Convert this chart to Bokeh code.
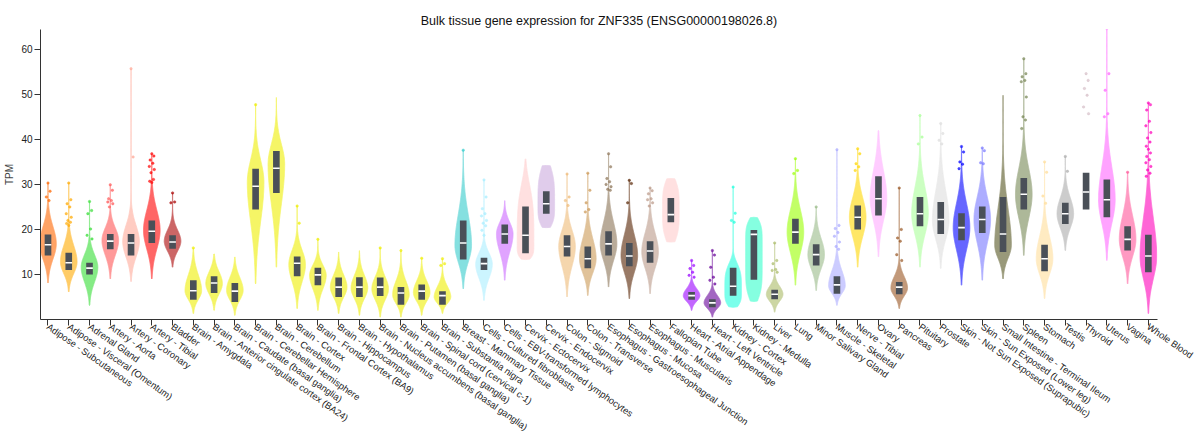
import numpy as np
from bokeh.plotting import figure
from bokeh.models import Range1d, FixedTicker, ColumnDataSource
from bokeh.embed import file_html
from bokeh.resources import INLINE

title_text = "Bulk tissue gene expression for ZNF335 (ENSG00000198026.8)"

tissues = [
    "Adipose - Subcutaneous", "Adipose - Visceral (Omentum)", "Adrenal Gland",
    "Artery - Aorta", "Artery - Coronary", "Artery - Tibial", "Bladder",
    "Brain - Amygdala", "Brain - Anterior cingulate cortex (BA24)",
    "Brain - Caudate (basal ganglia)", "Brain - Cerebellar Hemisphere",
    "Brain - Cerebellum", "Brain - Cortex", "Brain - Frontal Cortex (BA9)",
    "Brain - Hippocampus", "Brain - Hypothalamus",
    "Brain - Nucleus accumbens (basal ganglia)", "Brain - Putamen (basal ganglia)",
    "Brain - Spinal cord (cervical c-1)", "Brain - Substantia nigra",
    "Breast - Mammary Tissue", "Cells - Cultured fibroblasts",
    "Cells - EBV-transformed lymphocytes", "Cervix - Ectocervix",
    "Cervix - Endocervix", "Colon - Sigmoid", "Colon - Transverse",
    "Esophagus - Gastroesophageal Junction", "Esophagus - Mucosa",
    "Esophagus - Muscularis", "Fallopian Tube", "Heart - Atrial Appendage",
    "Heart - Left Ventricle", "Kidney - Cortex", "Kidney - Medulla", "Liver",
    "Lung", "Minor Salivary Gland", "Muscle - Skeletal", "Nerve - Tibial",
    "Ovary", "Pancreas", "Pituitary", "Prostate",
    "Skin - Not Sun Exposed (Suprapubic)", "Skin - Sun Exposed (Lower leg)",
    "Small Intestine - Terminal Ileum", "Spleen", "Stomach", "Testis",
    "Thyroid", "Uterus", "Vagina", "Whole Blood",
]

colors = [
    "#FF6600", "#FFAA00", "#33DD33", "#FF5555", "#FFAA99", "#FF0000", "#AA0000",
    "#EEEE00", "#EEEE00", "#EEEE00", "#EEEE00", "#EEEE00", "#EEEE00", "#EEEE00",
    "#EEEE00", "#EEEE00", "#EEEE00", "#EEEE00", "#EEEE00", "#EEEE00",
    "#33CCCC", "#AAEEFF", "#CC66FF", "#FFCCCC", "#CCAADD", "#EEBB77", "#CC9955",
    "#8B7355", "#552200", "#BB9988", "#FFCCCC", "#9900FF", "#660099",
    "#22FFDD", "#33FFCC", "#AABB66", "#99FF00", "#99BB88", "#AAAAFF",
    "#FFD700", "#FFAAFF", "#995522", "#AAFF99", "#DDDDDD", "#0000FF",
    "#7777FF", "#555522", "#778855", "#FFDD99", "#AAAAAA", "#006600",
    "#FF66FF", "#FF5599", "#FF00BB",
]

q1 = [14.2, 11.0, 10.0, 15.6, 14.2, 17.0, 15.7, 4.4, 5.9, 3.9, 24.4, 28.1, 9.6,
      7.6, 5.0, 5.0, 5.2, 3.3, 4.4, 3.3, 13.3, 11.0, 16.8, 14.7, 23.5, 14.0,
      11.4, 14.2, 11.8, 12.6, 21.6, 4.4, 2.7, 5.3, 8.8, 4.5, 16.8, 12.0, 5.7,
      20.0, 23.1, 5.6, 20.7, 19.0, 17.6, 19.2, 15.0, 24.4, 10.7, 21.2, 24.4,
      22.7, 15.3, 10.5]
median = [16.6, 12.6, 11.4, 17.4, 17.0, 19.6, 17.2, 6.4, 8.1, 6.3, 29.6, 33.6,
          12.5, 9.9, 7.2, 7.2, 7.2, 5.9, 6.3, 5.3, 17.0, 12.4, 19.0, 18.7, 25.7,
          16.2, 13.5, 16.8, 14.1, 15.2, 23.3, 5.3, 3.7, 7.4, 18.9, 5.6, 19.4,
          14.4, 7.7, 22.7, 26.8, 7.2, 23.5, 22.2, 20.4, 22.2, 19.0, 27.8, 13.5,
          23.5, 28.3, 26.6, 17.8, 14.1]
q3 = [18.9, 14.8, 12.6, 19.0, 19.0, 22.0, 18.7, 8.7, 9.6, 8.1, 33.5, 37.4, 14.0,
      11.5, 9.3, 9.4, 9.3, 7.2, 7.8, 6.3, 22.0, 13.7, 21.1, 25.1, 28.5, 18.7,
      16.2, 19.6, 17.0, 17.4, 27.0, 6.1, 4.5, 11.5, 19.9, 6.6, 22.4, 16.7, 9.6,
      25.3, 31.8, 8.3, 27.2, 26.1, 23.6, 25.1, 27.2, 31.4, 16.6, 25.9, 32.6,
      31.1, 20.7, 18.8]

# violin extent (bottom tip, top tip), level of widest part, level where the body ends
v_min = [8.1, 6.1, 3.1, 9.0, 8.4, 9.0, 11.6, 1.3, 2.0, 0.9, 7.9, 11.6, 2.4, 2.0,
         1.3, 0.9, 0.5, 0.5, 0.9, 1.3, 6.8, 4.2, 8.7, 13.3, 20.4, 5.0, 5.3, 7.2,
         4.6, 5.7, 17.2, 2.0, 0.5, 2.7, 4.0, 1.6, 7.6, 6.4, 3.1, 11.6, 13.9, 2.4,
         11.6, 11.3, 7.6, 8.7, 9.0, 14.2, 4.6, 15.3, None, 13.1, 7.9, 1.3]
v_max = [30.3, 30.3, 26.2, 29.9, 55.7, 36.8, 28.1, 15.9, 14.6, 13.9, 47.9, 49.3,
         25.2, 17.8, 15.0, 15.3, 15.9, 15.3, 13.6, 13.5, 37.6, 31.0, 26.4, 35.7,
         34.2, 32.3, 32.5, 36.8, 30.9, 29.2, 31.3, 13.1, 15.3, 29.4, 22.7, 17.0,
         35.7, 25.0, 37.7, 37.9, 42.0, 29.2, 45.3, 43.5, 38.4, 38.1, 49.8, 57.9,
         35.0, 36.2, None, 64.6, 32.7, 48.1]
v_peak = [16.8, 12.8, 11.6, 17.6, 17.3, 19.8, 17.4, 6.4, 8.0, 6.5, 30.5, 34.5,
          12.2, 9.8, 7.2, 7.0, 6.8, 5.5, 6.0, 5.0, 16.5, 12.3, 19.0, 16.5, 25.5,
          16.2, 13.5, 16.8, 14.2, 15.0, 24.5, 5.3, 3.7, 6.5, 15.0, 5.6, 19.4,
          14.4, 7.5, 22.7, 27.0, 7.0, 23.5, 22.0, 20.4, 22.2, 16.5, 27.8, 13.5,
          23.5, None, 26.6, 17.8, 14.0]
v_body_top = [25.0, 20.5, 17.6, 23.5, 25.0, 29.4, 22.7, 13.9, 13.5, 12.5, 41.0,
              44.0, 19.0, 14.7, 13.0, 13.0, 12.5, 12.0, 11.5, 10.0, 31.0, 17.6,
              24.5, 30.0, 34.2, 24.0, 23.0, 27.0, 24.0, 24.0, 31.3, 8.7, 7.2,
              12.5, 22.7, 9.4, 30.0, 22.0, 14.6, 32.0, 40.0, 12.4, 36.0, 36.0,
              32.0, 33.0, 34.0, 40.0, 24.0, 31.0, None, 42.0, 29.0, 32.0]
# 2 = rounded teardrop, 4/6 = blunt (few samples)
shape_power = [2, 2, 2, 2, 2, 2, 2, 2, 2, 2, 2, 2, 2, 2, 2, 2, 2, 2, 2, 2, 2, 2,
               2, 4, 4, 2, 2, 2, 2, 2, 4, 2, 2, 4, 6, 2, 2, 2, 2, 2, 2, 2, 2, 2,
               2, 2, 2, 2, 2, 2, 2, 2, 2, 2]

outliers = [
    [30.3, 28.5, 27.2, 26.4],
    [30.3, 26.6, 25.7, 25.0, 23.5, 22.7, 22.0, 21.6, 21.3, 20.9],
    [26.2, 24.2, 23.5, 20.1, 18.7, 17.9],
    [29.9, 28.7, 26.8, 26.4, 26.1, 25.7, 25.0],
    [55.7, 36.1],
    [36.8, 36.3, 35.4, 34.7, 34.0, 33.3, 32.6, 31.1, 30.7, 30.4],
    [28.1, 26.1, 25.9],
    [15.9], [], [], [47.7], [], [25.2, 21.4], [17.8], [], [], [15.9], [15.3],
    [13.6], [13.5, 12.4, 12.0],
    [37.6],
    [31.0, 27.2, 24.6, 23.5, 23.0, 22.0, 21.4, 20.8, 19.8, 18.7],
    [], [], [],
    [32.3, 27.2, 26.4, 25.3],
    [32.5, 28.7, 25.9, 24.4, 23.9],
    [36.8, 33.9, 31.3, 30.6, 30.0, 29.5, 28.9, 28.7],
    [30.9, 30.2, 25.9],
    [29.2, 28.6, 27.9, 26.8, 26.6, 25.9, 25.2],
    [],
    [13.1, 12.0, 11.3, 10.5, 9.8, 9.4],
    [15.3, 14.3, 11.6, 9.4, 8.7, 7.9],
    [29.4, 23.6, 22.0, 21.6],
    [],
    [17.0, 13.1, 12.4, 11.1, 10.9, 10.5],
    [35.7, 33.1, 32.4],
    [25.0],
    [37.7, 20.9, 20.2, 19.3, 18.5, 17.2, 16.2, 15.6],
    [37.9, 36.8, 34.6, 33.9, 33.1],
    [],
    [29.2, 20.0, 18.1, 17.4, 14.4, 13.1],
    [45.3, 40.5, 39.0],
    [43.5, 41.3, 39.8, 39.0],
    [38.4, 37.2, 35.0, 34.5, 33.5],
    [38.1, 37.5, 34.8, 34.6],
    [],
    [57.9, 54.6, 53.9, 53.1, 52.8, 49.4, 45.0, 44.3, 42.4],
    [35.0, 32.7, 27.4, 25.8],
    [36.2, 32.9],
    [54.6, 53.1, 51.3, 49.8, 47.2, 45.7],
    [64.6, 54.6, 50.9, 45.7, 45.0],
    [32.7],
    [48.1, 47.7, 46.5, 44.0, 43.0, 41.5, 40.3, 39.4, 38.5, 37.8, 37.0, 36.2,
     35.5, 34.8, 34.0, 33.2, 32.5, 31.8],
]

y_ticks = [10, 20, 30, 40, 50, 60]

# ---------------- style ----------------
FONT = "Liberation Sans"
HALF = 0.40      # max half-width of a violin, in band units
BOX_W = 0.32
JITTER = [0.0, 0.10, -0.08, 0.05, -0.12, 0.12, -0.04, 0.08, -0.10]

def blend(hexcol, a=0.6):
    h = hexcol.lstrip("#")
    r, g, b = (int(h[k:k + 2], 16) for k in (0, 2, 4))
    r, g, b = (round(a * c + (1 - a) * 255) for c in (r, g, b))
    return "#%02x%02x%02x" % (r, g, b)

n = len(tissues)
xs, ys, fills = [], [], []
for i in range(n):
    if v_min[i] is None:
        continue
    lo, hi, pk, bt, pw = v_min[i], v_max[i], v_peak[i], v_body_top[i], shape_power[i]
    zend = 2.6 if pw == 2 else 1.1
    s_lo = (pk - lo) / zend
    s_hi = (bt - pk) / (2.15 if pw == 2 else 1.1)
    v = np.linspace(lo, hi, 200)
    z = np.where(v < pk, (pk - v) / s_lo, (v - pk) / s_hi)
    w = np.exp(-0.5 * np.abs(z) ** pw)
    w = np.where(v > pk, np.maximum(w, 0.01), w)
    w[0] = 0.0
    w[-1] = 0.0
    hw = HALF * w
    xs.append(np.concatenate([i - hw, (i + hw)[::-1]]).tolist())
    ys.append(np.concatenate([v, v[::-1]]).tolist())
    fills.append(blend(colors[i]))

violins = ColumnDataSource(dict(xs=xs, ys=ys, fill=fills))

idx = list(range(n))
boxes = ColumnDataSource(dict(x=idx, q1=q1, q3=q3, med=median))

ox, oy, oc, oa = [], [], [], []
for i in range(n):
    for k, val in enumerate(outliers[i]):
        ox.append(i + JITTER[k % len(JITTER)])
        oy.append(val)
        oc.append(colors[i] if v_min[i] is not None else "#c8a8b4")
        oa.append(0.5 if v_min[i] is None else 0.7)
outs = ColumnDataSource(dict(x=ox, y=oy, c=oc, a=oa))

p = figure(
    width=1200, height=441,
    x_range=Range1d(-0.361, 53.44), y_range=Range1d(0, 64.4),
    output_backend="svg", toolbar_location=None, tools="",
    min_border_left=40, min_border_right=43, min_border_top=29,
    min_border_bottom=122,
)

p.patches("xs", "ys", source=violins, fill_color="fill", fill_alpha=1.0,
          line_color="fill", line_width=0.8)
p.vbar(x="x", bottom="q1", top="q3", width=BOX_W, source=boxes,
       fill_color="#4a5058", line_color=None)
p.rect(x="x", y="med", width=BOX_W, height=1.6, height_units="screen",
       source=boxes, fill_color="white", line_color=None)
p.scatter("x", "y", source=outs, size=2.5, fill_color="c", line_color="c",
          fill_alpha="a", line_alpha="a", line_width=0.5)

p.title.text = title_text
p.title.align = "center"
p.title.vertical_align = "middle"
p.title.text_font = FONT
p.title.text_font_size = "12.5px"
p.title.text_font_style = "normal"
p.title.text_color = "#111"
p.title.standoff = 2

p.outline_line_color = None
p.xgrid.grid_line_color = None
p.ygrid.grid_line_color = None

p.yaxis.ticker = FixedTicker(ticks=y_ticks)
p.yaxis.axis_label = "TPM"
p.yaxis.axis_label_text_font = FONT
p.yaxis.axis_label_text_font_size = "10px"
p.yaxis.axis_label_text_font_style = "normal"
p.yaxis.axis_label_standoff = 3
p.yaxis.major_label_standoff = 2
p.yaxis.major_tick_out = 6
p.yaxis.major_tick_in = 0
p.yaxis.minor_tick_line_color = None
p.yaxis.major_label_text_font_size = "10px"

p.xaxis.ticker = FixedTicker(ticks=idx)
p.xaxis.major_label_overrides = {i: t for i, t in enumerate(tissues)}
p.xaxis.major_label_orientation = -0.61
p.xaxis.major_label_text_font_size = "9.4px"
p.xaxis.major_label_standoff = 0
p.xaxis.major_tick_out = 6
p.xaxis.major_tick_in = 0
p.xaxis.minor_tick_line_color = None

for ax in (p.xaxis, p.yaxis):
    ax.axis_line_color = "#333"
    ax.major_tick_line_color = "#333"
    ax.major_label_text_font = FONT
    ax.major_label_text_color = "#222"

open("out.html", "w").write(file_html(p, INLINE))
